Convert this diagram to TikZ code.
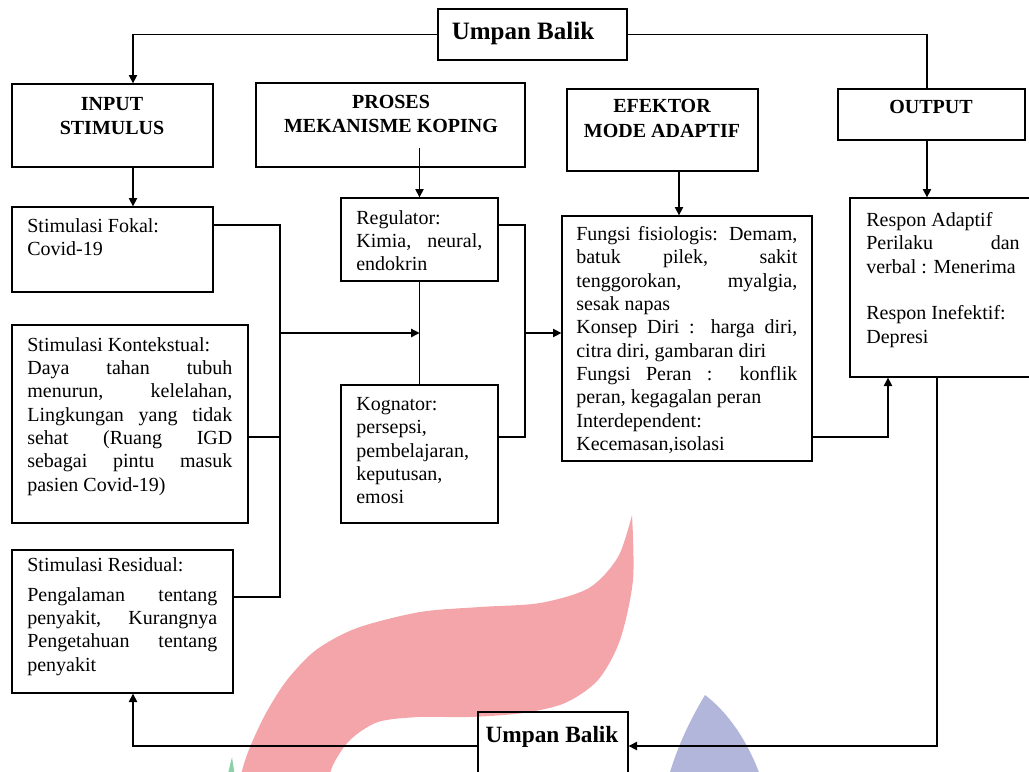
\documentclass[tikz,border=0pt]{standalone}
\usepackage{fontspec}
\setmainfont{Liberation Serif}
\usetikzlibrary{fit, arrows.meta}
\hyphenpenalty=10000
\exhyphenpenalty=10000
\tolerance=10000
\hbadness=10000

\definecolor{wmpink}{RGB}{243,165,170}
\definecolor{wmblue}{RGB}{178,182,218}
\definecolor{wmgreen}{RGB}{140,208,170}

\tikzset{
	box/.style={draw, line width=0.8pt, inner sep=0pt},
	head/.style={font=\bfseries\fontsize{12}{14.5}\selectfont, align=center, inner sep=0pt},
	body/.style={anchor=north west, inner sep=0pt, align=justify, font=\fontsize{12}{14}\selectfont},
	conn/.style={line width=0.8pt},
}

\begin{document}
\begin{tikzpicture}[x=0.6pt, y=-0.6pt, >={Triangle[length=5pt, width=5pt]}]
			\useasboundingbox (0,0) rectangle (1029,771);
			\clip (0,0) rectangle (1029,771);
			
			\fill[wmpink] plot[smooth] coordinates {(240,790) (242,771) (250,747) (266,713) (287,680) (316,650) (357,628) (420,612) (480,607) (540,603) (589,588) (618,557) (632,515)}
				-- plot[smooth] coordinates {(632,515) (633,580) (620,640) (598,680) (565,703) (523,713) (470,717) (419,717) (378,722) (350,740) (333,765) (326,790)} -- cycle;
			\fill[wmblue] (705,695) .. controls (690,720) and (675,750) .. (665,790) -- (765,790) .. controls (750,740) and (725,710) .. (705,695);
			\fill[wmgreen] (224,790) -- (232,757) -- (237,790) -- cycle;
			
			\node[box, fit={(438,9) (627,60)}] (ubtop) {};
			\node[box, fit={(12,84) (213,167)}] (input) {};
			\node[box, fit={(256,83) (525,167)}] (proses) {};
			\node[box, fit={(567,89) (758,171)}] (efektor) {};
			\node[box, fit={(838,89) (1025,140)}] (output) {};
			\node[box, fit={(12,207) (213,292)}] (fokal) {};
			\node[box, fit={(12,325) (248,523)}] (kontekstual) {};
			\node[box, fit={(12,550) (233,693)}] (residual) {};
			\node[box, fit={(341,198) (498,281)}] (regulator) {};
			\node[box, fit={(341,385) (498,523)}] (kognator) {};
			\node[box, fit={(562,216) (812,461)}] (fungsi) {};
			\node[box, fit={(850,198) (1040,377)}] (respon) {};
			\node[box, fit={(478,712) (628,780)}] (ubbot) {};
			
			\node[head, font=\bfseries\fontsize{15}{18}\selectfont] (ubtop-t) at (523,33) {Umpan Balik};
			\node[head] (input-t) at (112,116) {INPUT\\STIMULUS};
			\node[head] (proses-t) at (391,114) {PROSES\\MEKANISME KOPING};
			\node[head] (efektor-t) at (662,118.5) {EFEKTOR\\MODE ADAPTIF};
			\node[head] (output-t) at (931,107) {OUTPUT};
			\node[head, font=\bfseries\fontsize{14}{16}\selectfont] (ubbot-t) at (552,737) {Umpan Balik};
			
			\node[body, text width=88pt] (fokal-t) at (27,218) {Stimulasi Fokal:\\Covid-19};
			\node[body, text width=123pt] (kontekstual-t) at (27,337) {Stimulasi Kontekstual:\\Daya tahan tubuh\linebreak menurun, kelelahan,\linebreak Lingkungan yang tidak\linebreak sehat (Ruang IGD\linebreak sebagai pintu masuk\linebreak pasien Covid-19)};
			\node[body, text width=114pt] (residual-t) at (27,557) {Stimulasi Residual:\\[4pt]Pengalaman tentang\linebreak penyakit, Kurangnya\linebreak Pengetahuan tentang\linebreak penyakit};
			\node[body, text width=75.6pt] (regulator-t) at (356,210) {Regulator:\\Kimia, neural,\linebreak endokrin};
			\node[body, text width=90pt] (kognator-t) at (356,397) {Kognator:\\persepsi,\\pembelajaran,\\keputusan,\\emosi};
			\node[body, text width=132.6pt] (fungsi-t) at (576,226) {Fungsi fisiologis: Demam,\linebreak batuk pilek, sakit\linebreak tenggorokan, myalgia,\linebreak sesak napas\\Konsep Diri : harga diri,\linebreak citra diri, gambaran diri\\Fungsi Peran : konflik\linebreak peran, kegagalan peran\\Interdependent:\\Kecemasan,isolasi};
			\node[body, text width=92pt] (respon-t) at (866,212) {Respon Adaptif\\Perilaku dan\linebreak verbal : Menerima\\[14pt]Respon Inefektif:\\Depresi};
			
			\coordinate (jl) at (280,333);
			\coordinate (jr) at (525,333);
			
			\draw[conn, ->] (ubtop.west) -| (input.north -| 133,0);
			\draw[conn] (ubtop.east) -| (output.north -| 927,0);
			\draw[conn, ->] (input.south -| 133,0) -- (fokal.north -| 133,0);
			\draw[conn, ->] (regulator.north |- proses.south) ++(0,-20) -- (regulator.north);
			\draw[conn, ->] (efektor.south -| 679,0) -- (fungsi.north -| 679,0);
			\draw[conn, ->] (output.south -| 927,0) -- (respon.north -| 927,0);
			
			\draw[conn] (fokal.east |- 0,225) -| (jl |- 0,597) -- (residual.east |- 0,597);
			\draw[conn] (kontekstual.east |- 0,437) -- (jl |- 0,437);
			\draw[conn, ->] (jl) -- (regulator.south |- jl);
			\draw[conn] (regulator.south) -- (kognator.north);
			
			\draw[conn] (regulator.east |- 0,225) -| (jr |- 0,437) -- (kognator.east |- 0,437);
			\draw[conn, ->] (jr) -- (fungsi.west |- jr);
			\draw[conn, ->] (fungsi.east |- 0,437) -| (respon.south -| 888,0);
			
			\draw[conn, ->] (respon.south -| 937,0) |- (ubbot.east);
			\draw[conn, ->] (ubbot.west) -| (residual.south -| 133,0);
		\end{tikzpicture}
\end{document}
